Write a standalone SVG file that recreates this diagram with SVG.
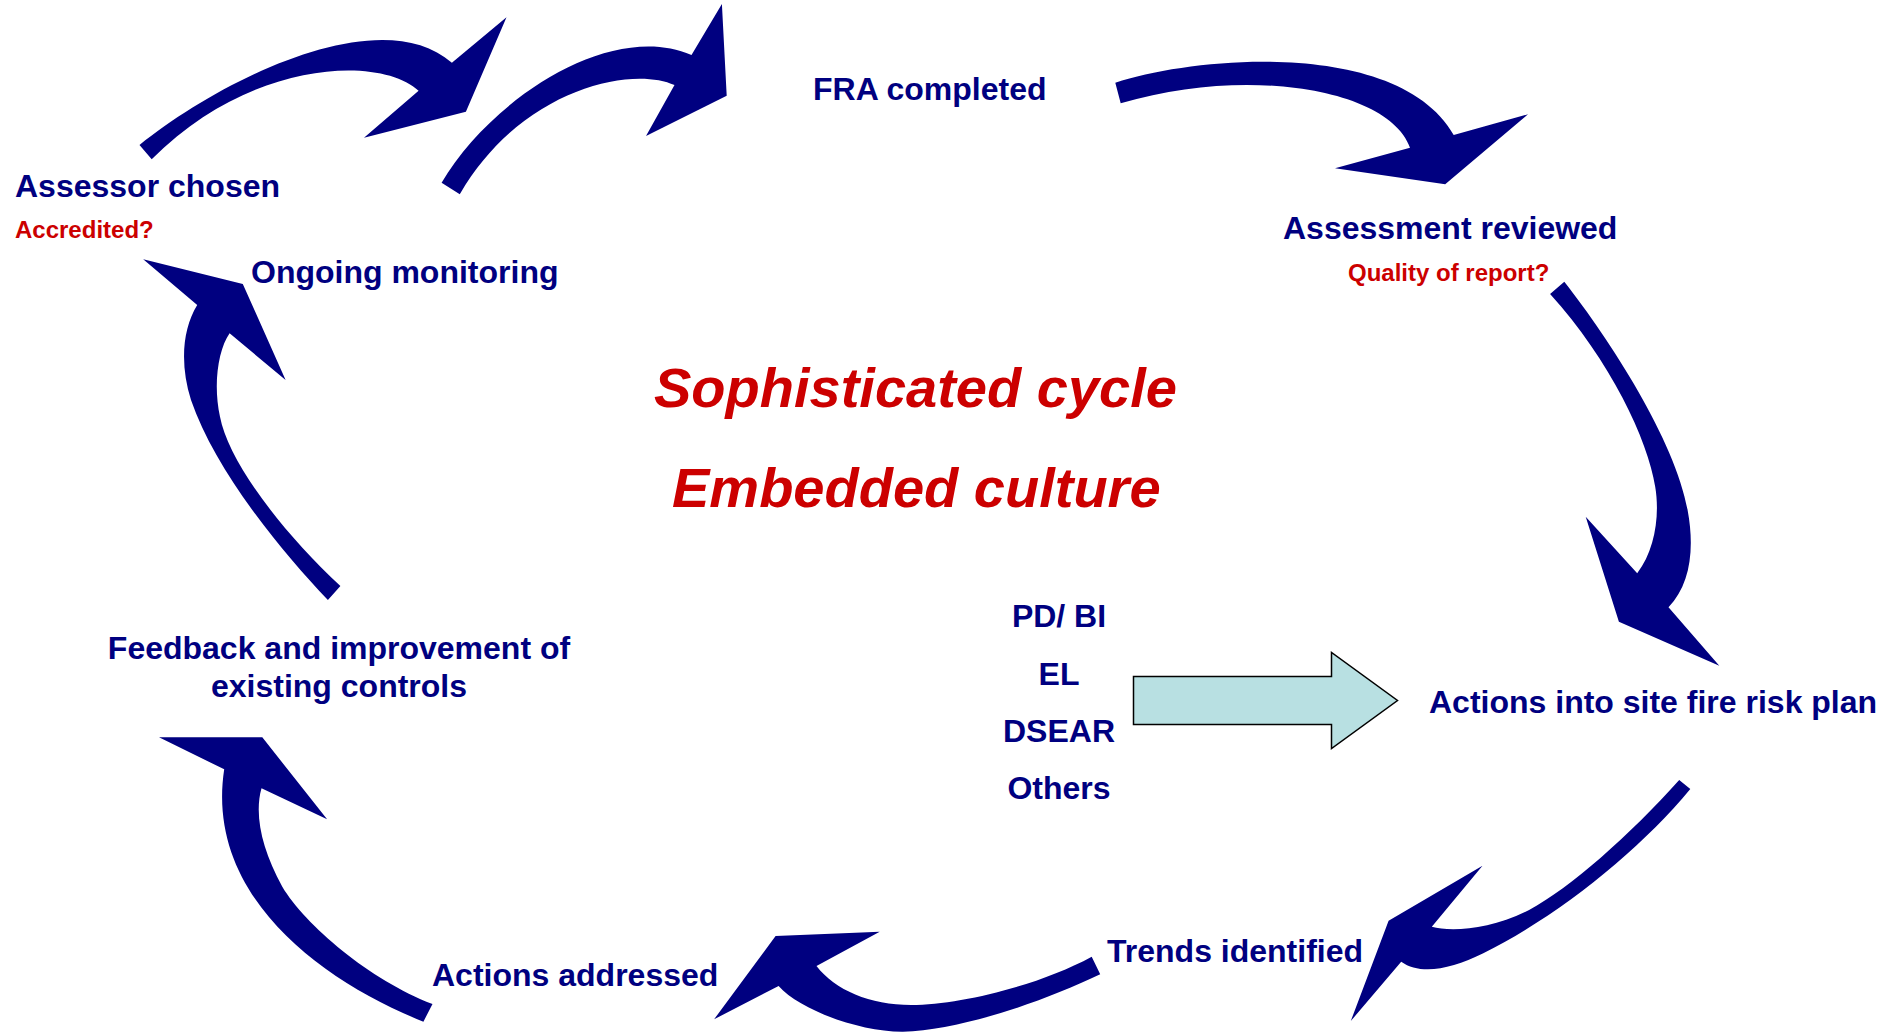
<svg xmlns="http://www.w3.org/2000/svg" width="1898" height="1032" viewBox="0 0 1898 1032">
<style>
.lbl{font-family:"Liberation Sans",Arial,sans-serif;font-weight:bold;font-size:32px;fill:#000080}
.q{font-family:"Liberation Sans",Arial,sans-serif;font-weight:bold;font-size:24px;fill:#CC0000}
.big{font-family:"Liberation Sans",Arial,sans-serif;font-weight:bold;font-style:italic;font-size:56px;fill:#CC0000}
.arr{fill:#000080;stroke:none}
.blk{fill:#B8E0E2;stroke:#000000;stroke-width:1.5}
.mid{text-anchor:middle}
</style>
<rect width="1898" height="1032" fill="#ffffff"/>
<g id="connectors">
<path class="arr" d="M139.5,145 C220,80 380,0 451.9,62.7 L506.5,17.3 L465.9,111.7 L364,137.7 L418.6,90.7 C380,55 250,60 151.7,159.3 Z"/>
<path class="arr" d="M441.6,182.7 C490,100 610,20 691.5,55 L721.9,4 L726.7,95.7 L646,136 L674.5,85 C630,65 520,90 459.8,194.3 Z"/>
<path class="arr" d="M1115.3,82.7 C1200,55 1400,40 1453.7,135 L1528,114.3 L1445.2,184.3 L1335,168.3 L1410,147.7 C1390,90 1250,65 1120.7,103.3 Z"/>
<path class="arr" d="M1564.3,281.7 C1610,340 1675,440 1687.6,510 C1695,550 1690,585 1668.5,607.3 L1719.3,665.7 L1618.9,621.7 L1585.7,516.7 L1637.2,573.3 C1655,550 1660,515 1655.2,486.7 C1648,440 1610,360 1550.1,294 Z"/>
<path class="arr" d="M1690.3,789 C1640,850 1560,915 1483.3,953.3 C1450,970 1420,975 1401.2,961.7 L1350.8,1021 L1388.6,920.7 L1482.5,865.7 L1431.8,926.7 C1450,932 1490,930 1529.1,910 C1570,888 1630,835 1679.2,780 Z"/>
<path class="arr" d="M1100.2,974.3 C1040,1003 960,1030 902.9,1031.7 C860,1032 800,1010 778.6,986 L714.1,1019.3 L775.6,936 L879.7,931.7 L816.5,966 C835,990 870,1005 911.3,1005 C960,1005 1040,985 1091.7,956.7 Z"/>
<path class="arr" d="M423.4,1021.7 C320,980 205,895 224.2,769.3 L159,737.3 L262.3,737.3 L327.1,819.3 L261.5,788.3 C254,815 262,850 282.3,886.7 C305,925 370,980 432.5,1004 Z"/>
<path class="arr" d="M327.9,600 C280,550 215,470 191,400 C180,365 182,330 197.2,305 L143.2,259.3 L242.8,284 L285.6,380 L229.6,333.3 C218,350 213,385 220,416.7 C228,460 280,530 340.4,586 Z"/>
<polygon class="blk" points="1133.5,676.5 1331.5,676.5 1331.5,652.5 1397.5,700.5 1331.5,748.5 1331.5,724.5 1133.5,724.5"/>
</g>
<g id="node-assessor">
<text class="lbl" x="15" y="197">Assessor chosen</text>
<text class="q" x="15" y="238">Accredited?</text>
</g>
<g id="node-fra">
<text class="lbl" x="813" y="100">FRA completed</text>
</g>
<g id="node-reviewed">
<text class="lbl" x="1283" y="239">Assessment reviewed</text>
<text class="q" x="1348" y="281">Quality of report?</text>
</g>
<g id="node-plan">
<text class="lbl" x="1429" y="713">Actions into site fire risk plan</text>
</g>
<g id="node-trends">
<text class="lbl" x="1107" y="962">Trends identified</text>
</g>
<g id="node-addressed">
<text class="lbl" x="432" y="986">Actions addressed</text>
</g>
<g id="node-feedback">
<text class="lbl mid" x="339" y="659">Feedback and improvement of</text>
<text class="lbl mid" x="339" y="697">existing controls</text>
</g>
<g id="node-monitoring">
<text class="lbl" x="251" y="283">Ongoing monitoring</text>
</g>
<g id="node-inputs">
<text class="lbl mid" x="1059" y="627">PD/ BI</text>
<text class="lbl mid" x="1059" y="685">EL</text>
<text class="lbl mid" x="1059" y="742">DSEAR</text>
<text class="lbl mid" x="1059" y="799">Others</text>
</g>
<g id="node-centre">
<text class="big" x="654" y="407">Sophisticated cycle</text>
<text class="big" x="672" y="507">Embedded culture</text>
</g>
</svg>
